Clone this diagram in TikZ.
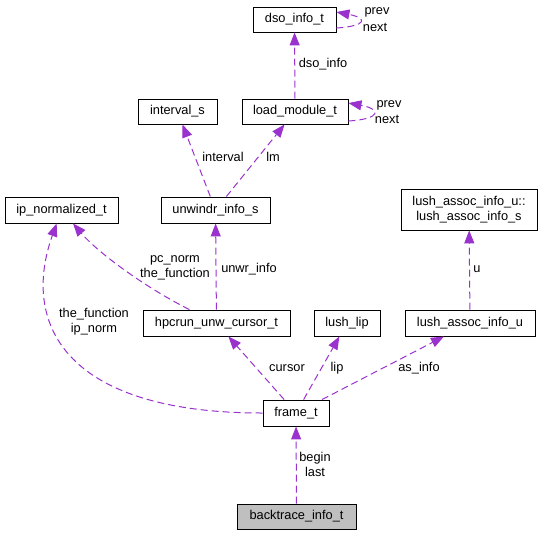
\documentclass[tikz,border=0pt]{standalone}
\usepackage{fontspec}
\setmainfont{Liberation Sans}
\usetikzlibrary{arrows.meta,calc}
\definecolor{edgec}{RGB}{154,50,205}
\definecolor{leaf}{RGB}{191,191,191}
\newcommand\dgfs{\fontsize{12.8}{15}\selectfont}
\begin{document}
\begin{tikzpicture}[x=1pt,y=-1pt,
  box/.style={draw=black,line width=0.9pt,rectangle,inner sep=0pt,font=\dgfs,align=center},
  lbl/.style={font=\dgfs,inner sep=0pt,align=center},
  dep/.style={draw=edgec,line width=1pt,dash pattern=on 7pt off 4pt,-{Triangle[length=13pt,width=10pt]}}]
\useasboundingbox (0,0) rectangle (545,536);
% nodes
\node[box,minimum width=83pt,minimum height=25pt] (dso) at (294.5,19.5) {dso\_info\_t};
\node[box,minimum width=106pt,minimum height=25pt] (lm) at (295,111.5) {load\_module\_t};
\node[box,minimum width=79pt,minimum height=25pt] (interval) at (177.5,111.5) {interval\_s};
\node[box,minimum width=109pt,minimum height=26pt] (unwindr) at (215.5,210) {unwindr\_info\_s};
\node[box,minimum width=113pt,minimum height=26pt] (ipn) at (61.5,210) {ip\_normalized\_t};
\node[box,minimum width=136pt,minimum height=41pt] (lais) at (469,209.5) {lush\_assoc\_info\_u::\\lush\_assoc\_info\_s};
\node[box,minimum width=147pt,minimum height=26pt] (cursor) at (216.5,323) {hpcrun\_unw\_cursor\_t};
\node[box,minimum width=66pt,minimum height=26pt] (lip) at (347,323) {lush\_lip};
\node[box,minimum width=130pt,minimum height=26pt] (laiu) at (470,323) {lush\_assoc\_info\_u};
\node[box,minimum width=66pt,minimum height=26pt] (frame) at (296,413) {frame\_t};
\node[box,fill=leaf,minimum width=119pt,minimum height=25pt] (bt) at (296.5,516.5) {backtrace\_info\_t};
% edges
\draw[dep] ($(dso.east)+(0,8.5)$) .. controls +(31,-2) and +(31,6) .. ($(dso.east)+(0,-7.5)$);
\draw[dep] ($(lm.east)+(0,9.5)$) .. controls +(33,-2) and +(33,6) .. ($(lm.east)+(0,-8.5)$);
\draw[dep] (lm) -- (dso);
\draw[dep] (unwindr) -- (interval);
\draw[dep] (unwindr) -- (lm);
\draw[dep] (cursor) -- (unwindr);
\draw[dep] (cursor) .. controls (150,290) and (100,255) .. (ipn);
\draw[dep] (frame) .. controls (60,413) and (22,320) .. (ipn);
\draw[dep] (frame) -- (cursor);
\draw[dep] (frame) -- (lip);
\draw[dep] (frame) -- (laiu);
\draw[dep] (laiu) -- (lais);
\draw[dep] (bt) -- (frame);
% labels
\node[lbl] (l1) at (377,12) {prev};
\node[lbl] (l2) at (375,27) {next};
\node[lbl] (l3) at (389,105) {prev};
\node[lbl] (l4) at (387,119) {next};
\node[lbl] (l5) at (323,64) {dso\_info};
\node[lbl] (l6) at (223,157) {interval};
\node[lbl] (l7) at (273,157) {lm};
\node[lbl] (l8) at (249,269) {unwr\_info};
\node[lbl] (l9) at (175,268) {pc\_norm\\the\_function};
\node[lbl] (l10) at (94,322) {the\_function\\ip\_norm};
\node[lbl] (l11) at (287,368) {cursor};
\node[lbl] (l12) at (337,368) {lip};
\node[lbl] (l13) at (419,368) {as\_info};
\node[lbl] (l14) at (477,269) {u};
\node[lbl] (l15) at (315,464) {begin\\last};
\end{tikzpicture}
\end{document}
